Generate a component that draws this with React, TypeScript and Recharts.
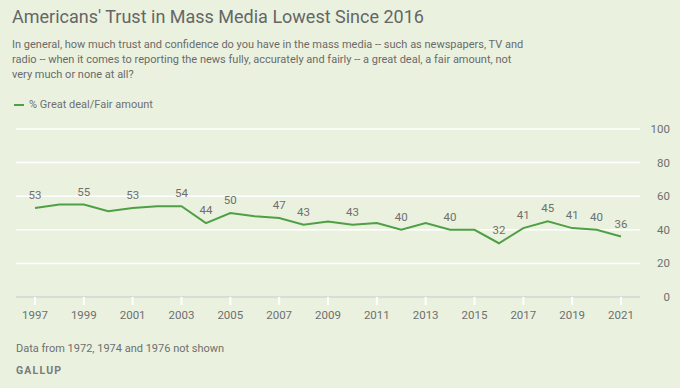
import React from 'react';
import { LineChart, Line, XAxis, YAxis, CartesianGrid, LabelList } from 'recharts';

const years = [
  1997, 1998, 1999, 2000, 2001, 2002, 2003, 2004, 2005, 2006, 2007, 2008, 2009,
  2010, 2011, 2012, 2013, 2014, 2015, 2016, 2017, 2018, 2019, 2020, 2021,
];
const trust = [53, 55, 55, 51, 53, 54, 54, 44, 50, 48, 47, 43, 45, 43, 44, 40, 44, 40, 40, 32, 41, 45, 41, 40, 36];
// years whose value is printed above the line
const labeledYears = [1997, 1999, 2001, 2003, 2004, 2005, 2007, 2008, 2010, 2012, 2014, 2016, 2017, 2018, 2019, 2020, 2021];
const xTicks = [1997, 1999, 2001, 2003, 2005, 2007, 2009, 2011, 2013, 2015, 2017, 2019, 2021];
const yTicks = [0, 20, 40, 60, 80, 100];

const data = years.map((year, i) => ({ year, value: trust[i] }));

const GREEN = '#4f9f45';
const TEXT = '#6f6f6f';
const FONT = 'Roboto, "Noto Sans", sans-serif';

const PointLabel = (props: any) => {
  const { x, y, value, index } = props;
  if (!labeledYears.includes(years[index])) return null;
  return (
    <text x={x} y={y - 9} textAnchor="middle" fontSize={11.5} fill={TEXT} fontFamily={FONT}>
      {value}
    </text>
  );
};

const RightTick = (props: any) => {
  const { x, y, payload } = props;
  return (
    <text x={x + 22} y={y} dy={4} textAnchor="end" fontSize={11.5} fill={TEXT} fontFamily={FONT}>
      {payload.value}
    </text>
  );
};

export default function App() {
  return (
    <div
      style={{
        position: 'absolute',
        left: 0,
        top: 0,
        width: 680,
        height: 388,
        background: '#eaf2df',
        fontFamily: FONT,
        color: TEXT,
        overflow: 'hidden',
      }}
    >
      <div style={{ position: 'absolute', left: 12, top: 6, fontSize: 18, color: '#666' }}>
        Americans' Trust in Mass Media Lowest Since 2016
      </div>
      <div style={{ position: 'absolute', left: 12, top: 37, fontSize: 11, lineHeight: '15px', color: '#6a6a6a' }}>
        In general, how much trust and confidence do you have in the mass media -- such as newspapers, TV and
        <br />
        radio -- when it comes to reporting the news fully, accurately and fairly -- a great deal, a fair amount, not
        <br />
        very much or none at all?
      </div>
      <div style={{ position: 'absolute', left: 14, top: 98, display: 'flex', alignItems: 'center', fontSize: 11 }}>
        <span style={{ display: 'inline-block', width: 10, height: 2, background: GREEN, marginRight: 5 }} />
        <span>% Great deal/Fair amount</span>
      </div>

      <div style={{ position: 'absolute', left: 0, top: 0 }}>
        <LineChart width={680} height={340} data={data} margin={{ top: 129, right: 10, left: 16, bottom: 13 }}>
          <CartesianGrid vertical={false} stroke="#ffffff" strokeWidth={1.5} />
          <XAxis
            dataKey="year"
            type="number"
            domain={[1997, 2021]}
            ticks={xTicks}
            padding={{ left: 19, right: 19 }}
            height={30}
            axisLine={{ stroke: '#cdd5cb', strokeWidth: 1.5 }}
            tickLine={{ stroke: '#ffffff', strokeWidth: 2 }}
            tickSize={8}
            tickMargin={6}
            tick={{ fontSize: 11.5, fill: TEXT, fontFamily: FONT }}
          />
          <YAxis
            orientation="right"
            domain={[0, 100]}
            ticks={yTicks}
            width={30}
            axisLine={false}
            tickLine={false}
            tick={<RightTick />}
          />
          <Line
            type="linear"
            dataKey="value"
            stroke={GREEN}
            strokeWidth={2}
            dot={false}
            isAnimationActive={false}
          >
            <LabelList dataKey="value" content={<PointLabel />} />
          </Line>
        </LineChart>
      </div>

      <div style={{ position: 'absolute', left: 16, top: 342, fontSize: 11, color: '#6f6f6f' }}>
        Data from 1972, 1974 and 1976 not shown
      </div>
      <div
        style={{
          position: 'absolute',
          left: 16,
          top: 364,
          fontSize: 10.5,
          fontWeight: 700,
          letterSpacing: 1.2,
          color: '#7a7a7a',
        }}
      >
        GALLUP
      </div>
    </div>
  );
}
